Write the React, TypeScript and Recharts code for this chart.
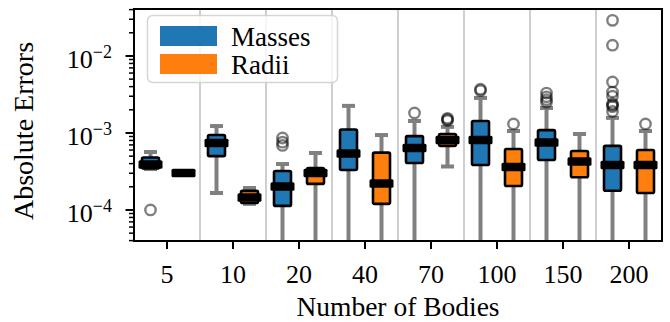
import React from "react";
import { Bar, BarChart, CartesianGrid, XAxis, YAxis } from "recharts";

const FONT = '"Liberation Serif", "Times New Roman", serif';

const categories = ["5", "10", "20", "40", "70", "100", "150", "200"];

// Masses (whiskers below the axis run off the plot)
const massesLow = [3.4e-4, 1.66e-4, 1e-5, 1e-5, 1e-5, 1e-5, 1e-5, 1e-5];
const massesQ1 = [3.46e-4, 5.0e-4, 1.13e-4, 3.3e-4, 4.07e-4, 3.84e-4, 4.46e-4, 1.78e-4];
const massesMedian = [3.9e-4, 7.4e-4, 2.02e-4, 5.42e-4, 6.4e-4, 8.1e-4, 7.5e-4, 3.84e-4];
const massesQ3 = [4.8e-4, 9.4e-4, 3.21e-4, 1.11e-3, 9.1e-4, 1.43e-3, 1.09e-3, 6.8e-4];
const massesHigh = [5.66e-4, 1.23e-3, 3.95e-4, 2.25e-3, 1.43e-3, 2.85e-3, 2.11e-3, 1.57e-3];
const massesOutliers = [
  [1.0e-4],
  [],
  [8.6e-4, 7.6e-4, 6.9e-4],
  [],
  [1.82e-3],
  [3.7e-3, 3.55e-3],
  [3.3e-3, 2.95e-3, 2.7e-3, 2.5e-3],
  [2.9e-2, 1.38e-2, 4.6e-3, 3.4e-3, 3.0e-3, 2.4e-3, 2.3e-3, 2.2e-3, 1.9e-3],
];

// Radii
const radiiLow = [2.9e-4, 1.2e-4, 1e-5, 1e-5, 3.67e-4, 1e-5, 1e-5, 1e-5];
const radiiQ1 = [2.95e-4, 1.23e-4, 2.18e-4, 1.2e-4, 6.8e-4, 2.05e-4, 2.66e-4, 1.66e-4];
const radiiMedian = [3.03e-4, 1.45e-4, 3.03e-4, 2.21e-4, 8.1e-4, 3.61e-4, 4.26e-4, 3.84e-4];
const radiiQ3 = [3.1e-4, 1.77e-4, 3.51e-4, 5.55e-4, 9.7e-4, 6.2e-4, 5.84e-4, 6.0e-4];
const radiiHigh = [3.15e-4, 1.93e-4, 5.5e-4, 9.4e-4, 1.2e-3, 1.06e-3, 9.7e-4, 1.06e-3];
const radiiOutliers = [[], [], [], [], [1.55e-3, 1.5e-3, 1.45e-3], [1.31e-3], [], [1.31e-3]];

const seriesNames = ["Masses", "Radii"];
const seriesColors = ["#1f77b4", "#ff7f0e"];

const yMajorTicks = [1e-4, 1e-3, 1e-2];
const yMinorSteps = [2, 3, 4, 5, 6, 7, 8, 9];

const Y_MIN = Math.pow(10, -4.403);
const Y_MAX = Math.pow(10, -1.39);

const yTicks = [1e-5, ...yMajorTicks]
  .flatMap((d) => [d, ...yMinorSteps.map((m) => m * d)])
  .filter((v) => v >= Y_MIN && v <= Y_MAX);

// chart layout
const W = 670;
const H = 322;
const MARGIN = { top: 9, right: 8, left: 0, bottom: 0 };
const Y_AXIS_W = 134;
const X_AXIS_H = 81;

type Stats = { lo: number; q1: number; med: number; q3: number; hi: number; out: number[] };

const chartData = categories.map((name, i) => ({
  name,
  masses: {
    lo: massesLow[i],
    q1: massesQ1[i],
    med: massesMedian[i],
    q3: massesQ3[i],
    hi: massesHigh[i],
    out: massesOutliers[i],
  },
  radii: {
    lo: radiiLow[i],
    q1: radiiQ1[i],
    med: radiiMedian[i],
    q3: radiiQ3[i],
    hi: radiiHigh[i],
    out: radiiOutliers[i],
  },
}));

const WHISKER = "#808080";

// the bar spans the whole y domain, so positions inside it follow the log scale
const makeBoxShape = (key: "masses" | "radii", color: string) => (props: any) => {
  const { x, y, width, height, payload } = props;
  const s: Stats = payload[key];
  const top = Math.min(y, y + height);
  const h = Math.abs(height);
  const bottom = top + h;
  const lmin = Math.log10(Y_MIN);
  const lmax = Math.log10(Y_MAX);
  const raw = (v: number) => bottom - ((Math.log10(v) - lmin) / (lmax - lmin)) * h;
  const py = (v: number) => Math.min(bottom, Math.max(top, raw(v)));
  const cx = x + width / 2;
  const inside = (v: number) => v >= Y_MIN && v <= Y_MAX;
  return (
    <g>
      <line x1={cx} x2={cx} y1={py(s.q3)} y2={py(s.hi)} stroke={WHISKER} strokeWidth={4} />
      <line x1={cx} x2={cx} y1={py(s.q1)} y2={py(s.lo)} stroke={WHISKER} strokeWidth={4} />
      {inside(s.hi) && (
        <line x1={cx - 6.5} x2={cx + 6.5} y1={py(s.hi)} y2={py(s.hi)} stroke={WHISKER} strokeWidth={4} />
      )}
      {inside(s.lo) && (
        <line x1={cx - 6.5} x2={cx + 6.5} y1={py(s.lo)} y2={py(s.lo)} stroke={WHISKER} strokeWidth={4} />
      )}
      <rect
        x={cx - 8.5}
        y={py(s.q3)}
        width={17}
        height={Math.max(0.5, py(s.q1) - py(s.q3))}
        fill={color}
        stroke="#000"
        strokeWidth={2.6}
        strokeLinejoin="round"
        rx={1.5}
      />
      <rect x={cx - 12} y={py(s.med) - 4.25} width={24} height={8.5} fill="#000" rx={1.5} />
      {s.out.filter(inside).map((v, i) => (
        <circle
          key={i}
          cx={cx}
          cy={py(v)}
          r={5.2}
          fill="none"
          stroke="#000"
          strokeOpacity={0.5}
          strokeWidth={2.4}
        />
      ))}
    </g>
  );
};

const LogTick = (props: any) => {
  const { x, y, payload } = props;
  const v = payload.value;
  const lg = Math.log10(v);
  const exp = Math.round(lg);
  const major = Math.abs(lg - exp) < 1e-6;
  return (
    <g>
      <line x1={x - (major ? 8.5 : 5)} x2={x} y1={y} y2={y} stroke="#000" strokeWidth={major ? 2 : 1.5} />
      {major && (
        <text x={x - 22} y={y + 12} textAnchor="end" fontFamily={FONT} fill="#000">
          <tspan fontSize={26}>10</tspan>
          <tspan fontSize={18} dy={-10}>
            {"\u2212" + Math.abs(exp)}
          </tspan>
        </text>
      )}
    </g>
  );
};

const XTitle = (props: any) => {
  const { viewBox } = props;
  const cx = viewBox ? viewBox.x + viewBox.width / 2 : 398;
  return (
    <text x={cx} y={316} textAnchor="middle" fontFamily={FONT} fontSize={27.5} fill="#000">
      Number of Bodies
    </text>
  );
};

const YTitle = (props: any) => {
  const { viewBox } = props;
  const cy = (viewBox ? viewBox.y + viewBox.height / 2 : 125) + 6;
  return (
    <text
      x={32.5}
      y={cy}
      transform={`rotate(-90, 32.5, ${cy})`}
      textAnchor="middle"
      fontFamily={FONT}
      fontSize={28}
      fill="#000"
    >
      Absolute Errors
    </text>
  );
};

// vertical separators sit on the band edges between categories
const gridBetweenCategories = (args: any) => {
  const { offset } = args;
  const n = categories.length;
  const band = offset.width / n;
  return categories.slice(0, -1).map((_, i) => offset.left + band * (i + 1));
};

const axisLine = { stroke: "#000", strokeWidth: 2 };

const plotLeft = MARGIN.left + Y_AXIS_W;
const plotRight = W - MARGIN.right;
const plotTop = MARGIN.top;
const plotBottom = H - MARGIN.bottom - X_AXIS_H;

export default function App() {
  return (
    <div style={{ position: "absolute", left: 0, top: 0, width: W, height: H, background: "#fff" }}>
      <BarChart
        width={W}
        height={H}
        data={chartData}
        margin={MARGIN}
        barCategoryGap={0}
        barGap={0}
      >
        <CartesianGrid
          horizontal={false}
          stroke="#cfcfcf"
          strokeWidth={2}
          verticalCoordinatesGenerator={gridBetweenCategories}
        />
        <XAxis
          dataKey="name"
          height={X_AXIS_H}
          tickSize={8}
          tickMargin={16}
          tickLine={{ stroke: "#000", strokeWidth: 2 }}
          axisLine={axisLine}
          tick={{ fill: "#000", fontFamily: FONT, fontSize: 26 }}
          label={<XTitle />}
        />
        <YAxis
          type="number"
          scale="log"
          domain={[Y_MIN, Y_MAX]}
          allowDataOverflow
          ticks={yTicks}
          interval={0}
          width={Y_AXIS_W}
          tickSize={0}
          tickMargin={0}
          tickLine={false}
          axisLine={axisLine}
          tick={<LogTick />}
          label={<YTitle />}
        />
        <Bar
          name={seriesNames[0]}
          dataKey={() => [Y_MIN, Y_MAX]}
          shape={makeBoxShape("masses", seriesColors[0])}
          isAnimationActive={false}
        />
        <Bar
          name={seriesNames[1]}
          dataKey={() => [Y_MIN, Y_MAX]}
          shape={makeBoxShape("radii", seriesColors[1])}
          isAnimationActive={false}
        />
      </BarChart>
      <svg
        width={W}
        height={H}
        style={{ position: "absolute", left: 0, top: 0, pointerEvents: "none" }}
      >
        {/* axes frame */}
        <rect
          x={plotLeft}
          y={plotTop}
          width={plotRight - plotLeft}
          height={plotBottom - plotTop}
          fill="none"
          stroke="#000"
          strokeWidth={2}
        />
        <rect
          x={147.5}
          y={15.5}
          width={190}
          height={67}
          rx={5}
          fill="#fff"
          fillOpacity={0.8}
          stroke="#cccccc"
          strokeOpacity={0.8}
          strokeWidth={1.5}
        />
        {seriesNames.map((name, i) => (
          <g key={name}>
            <rect x={160} y={26 + i * 28} width={57} height={20} fill={seriesColors[i]} />
            <text x={231} y={46 + i * 28} fontFamily={FONT} fontSize={27} fill="#000">
              {name}
            </text>
          </g>
        ))}
      </svg>
    </div>
  );
}
